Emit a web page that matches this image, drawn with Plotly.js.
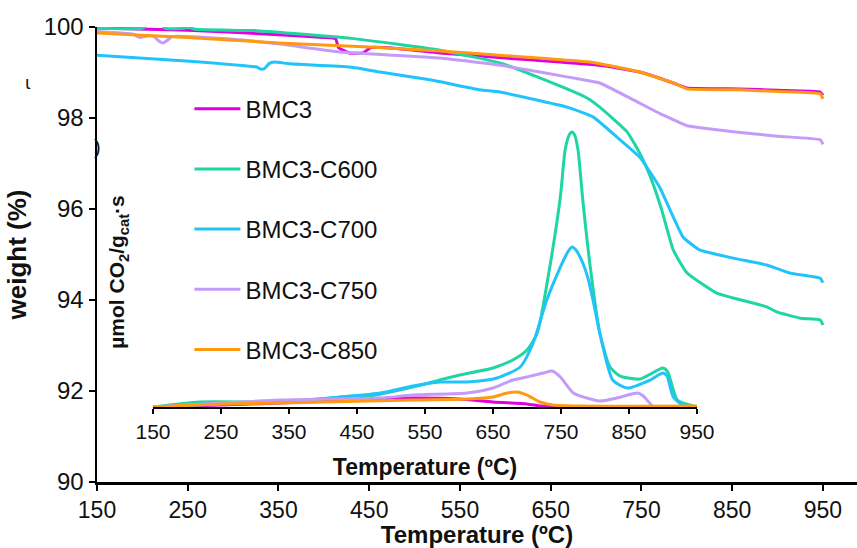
<!DOCTYPE html>
<html>
<head>
<meta charset="utf-8">
<script src="https://cdn.plot.ly/plotly-3.0.1.min.js"></script>
<style>
  html, body { margin: 0; padding: 0; background: #fff; }
  #chart { width: 857px; height: 548px; }
</style>
</head>
<body>
<div id="chart"></div>
<script>
// ---- TGA weight-loss curves (main axes) ----
const seriesNames = ['BMC3', 'BMC3-C600', 'BMC3-C700', 'BMC3-C750', 'BMC3-C850'];
const seriesColors = ['#e000e0', '#1fd6a3', '#21c3fb', '#c49cf8', '#ff9a10'];

const tgaTempBMC3 = [150, 250, 350, 400, 413, 416, 428, 443, 452, 480, 528, 600, 704, 748, 785, 800, 858, 900, 947, 950];
const tgaWtBMC3   = [99.98, 99.93, 99.83, 99.77, 99.74, 99.55, 99.43, 99.43, 99.55, 99.53, 99.43, 99.32, 99.16, 99.01, 98.77, 98.66, 98.64, 98.61, 98.57, 98.5];

const tgaTempC600 = [150, 200, 205, 208, 222, 225, 245, 250, 258, 326, 430, 528, 594, 638, 690, 704, 734, 748, 759, 772, 785, 800, 833, 888, 899, 925, 947, 950];
const tgaWtC600   = [99.97, 99.97, 100.03, 100.03, 100.03, 99.97, 99.97, 100.0, 99.95, 99.92, 99.75, 99.49, 99.21, 98.88, 98.44, 98.24, 97.7, 97.23, 96.75, 96.0, 95.1, 94.6, 94.15, 93.85, 93.74, 93.6, 93.56, 93.45];

const tgaTempC700 = [150, 252, 326, 330, 334, 340, 345, 363, 429, 462, 517, 572, 594, 668, 697, 723, 748, 770, 796, 814, 851, 888, 914, 947, 950];
const tgaWtC700   = [99.38, 99.25, 99.12, 99.08, 99.08, 99.2, 99.23, 99.19, 99.12, 99.01, 98.84, 98.62, 98.57, 98.24, 98.02, 97.58, 97.14, 96.48, 95.38, 95.10, 94.92, 94.77, 94.59, 94.48, 94.38];

const tgaTempC750 = [150, 190, 197, 205, 212, 219, 223, 227, 233, 300, 350, 418, 528, 594, 638, 686, 704, 741, 770, 792, 800, 851, 900, 947, 950];
const tgaWtC750   = [99.9, 99.84, 99.77, 99.8, 99.8, 99.68, 99.65, 99.7, 99.79, 99.73, 99.63, 99.45, 99.32, 99.16, 99.01, 98.84, 98.77, 98.4, 98.1, 97.9, 97.83, 97.7, 97.6, 97.52, 97.42];

const tgaTempC850 = [150, 250, 350, 450, 528, 600, 693, 748, 785, 800, 858, 900, 947, 950];
const tgaWtC850   = [99.87, 99.77, 99.65, 99.56, 99.47, 99.37, 99.23, 99.01, 98.77, 98.64, 98.62, 98.58, 98.53, 98.42];

// ---- CO2 evolution rate (inset axes, µmol CO2/gcat·s) ----
const co2TempBMC3 = [150, 249, 337, 480, 532, 600, 650, 700, 720, 750, 950];
const co2RateBMC3 = [0, 0.02, 0.04, 0.08, 0.09, 0.08, 0.05, 0.03, 0.01, 0, 0];

const co2TempC600 = [150, 219, 337, 410, 450, 459, 532, 572, 601, 650, 679, 700, 715, 731, 749, 756, 762, 766, 770, 775, 782, 793, 807, 822, 837, 866, 900, 907, 921, 944, 950];
const co2RateC600 = [0, 0.05, 0.05, 0.09, 0.11, 0.10, 0.20, 0.27, 0.32, 0.39, 0.47, 0.57, 0.74, 1.3, 2.1, 2.57, 2.72, 2.75, 2.72, 2.57, 2.07, 1.40, 0.74, 0.40, 0.31, 0.28, 0.39, 0.35, 0.07, 0.01, 0];

const co2TempC700 = [150, 249, 337, 484, 532, 572, 612, 656, 690, 709, 729, 749, 760, 766, 772, 782, 790, 797, 807, 826, 847, 881, 900, 906, 915, 929, 950];
const co2RateC700 = [0, 0.03, 0.05, 0.14, 0.21, 0.25, 0.25, 0.29, 0.40, 0.64, 1.07, 1.40, 1.55, 1.60, 1.57, 1.44, 1.28, 1.07, 0.74, 0.27, 0.19, 0.27, 0.34, 0.31, 0.10, 0.02, 0];

const co2TempC750 = [150, 249, 337, 484, 532, 612, 650, 679, 700, 724, 737, 749, 768, 788, 807, 832, 863, 871, 885, 896, 950];
const co2RateC750 = [0, 0.04, 0.07, 0.09, 0.12, 0.14, 0.19, 0.27, 0.30, 0.34, 0.36, 0.30, 0.14, 0.09, 0.06, 0.09, 0.14, 0.11, 0.01, 0, 0];

const co2TempC850 = [150, 249, 337, 532, 612, 650, 671, 685, 700, 719, 738, 778, 950];
const co2RateC850 = [0, 0.03, 0.04, 0.07, 0.08, 0.10, 0.14, 0.15, 0.12, 0.05, 0.02, 0.01, 0.01];

const tempTicks = [150, 250, 350, 450, 550, 650, 750, 850, 950];
const weightTicks = [90, 92, 94, 96, 98, 100];

const FONT = 'Liberation Sans, Arial, sans-serif';
const INK = '#111111';

const tgaX = [tgaTempBMC3, tgaTempC600, tgaTempC700, tgaTempC750, tgaTempC850];
const tgaY = [tgaWtBMC3, tgaWtC600, tgaWtC700, tgaWtC750, tgaWtC850];
const co2X = [co2TempBMC3, co2TempC600, co2TempC700, co2TempC750, co2TempC850];
const co2Y = [co2RateBMC3, co2RateC600, co2RateC700, co2RateC750, co2RateC850];

const traces = [];
seriesNames.forEach((name, i) => {
  traces.push({
    type: 'scatter', mode: 'lines', name: name,
    x: tgaX[i], y: tgaY[i], xaxis: 'x', yaxis: 'y',
    legendgroup: 'g' + i,
    line: { color: seriesColors[i], width: 3, shape: 'spline', smoothing: 0.4 },
    hoverinfo: 'skip'
  });
});
seriesNames.forEach((name, i) => {
  traces.push({
    type: 'scatter', mode: 'lines', name: name,
    x: co2X[i], y: co2Y[i], xaxis: 'x2', yaxis: 'y2',
    legendgroup: 'g' + i, showlegend: false,
    line: { color: seriesColors[i], width: 3, shape: 'spline', smoothing: 0.6 },
    hoverinfo: 'skip'
  });
});

const layout = {
  width: 857, height: 548,
  margin: { l: 97, r: 0, t: 27, b: 66 },
  paper_bgcolor: '#ffffff',
  plot_bgcolor: 'rgba(0,0,0,0)',
  font: { family: FONT, color: INK },
  showlegend: true,
  legend: {
    x: 0.1216, y: 0.869, xanchor: 'left', yanchor: 'top',
    bgcolor: 'rgba(0,0,0,0)',
    font: { family: FONT, size: 24, color: INK },
    traceorder: 'grouped', tracegroupgap: 26,
    itemwidth: 46
  },
  xaxis: {
    domain: [0, 1], range: [150, 987.5],
    tickmode: 'array', tickvals: tempTicks,
    showline: true, linecolor: '#000', linewidth: 2.5,
    ticks: 'outside', ticklen: 6, tickwidth: 2, tickcolor: '#000',
    showgrid: false, zeroline: false,
    tickfont: { family: FONT, size: 23, color: INK },
    title: { text: '<b>Temperature (ºC)</b>', font: { family: FONT, size: 24, color: INK }, standoff: 6 },
    anchor: 'y'
  },
  yaxis: {
    domain: [0, 1], range: [90, 100],
    tickmode: 'array', tickvals: weightTicks,
    showline: true, linecolor: '#000', linewidth: 2.5,
    ticks: 'outside', ticklen: 6, tickwidth: 2, tickcolor: '#000',
    showgrid: false, zeroline: false,
    tickfont: { family: FONT, size: 24, color: INK },
    title: { text: '<b>weight (%)</b>', font: { family: FONT, size: 26, color: INK }, standoff: 10 },
    anchor: 'x'
  },
  xaxis2: {
    domain: [0.0737, 0.7895], range: [150, 950],
    tickmode: 'array', tickvals: tempTicks,
    showline: true, linecolor: '#000', linewidth: 2,
    ticks: 'outside', ticklen: 5, tickwidth: 1.5, tickcolor: '#000',
    showgrid: false, zeroline: false,
    tickfont: { family: FONT, size: 21, color: INK },
    title: { text: '<b>Temperature (ºC)</b>', font: { family: FONT, size: 23, color: INK }, standoff: 17 },
    anchor: 'y2'
  },
  yaxis2: {
    domain: [0.1648, 0.7802], range: [0, 2.8],
    visible: false, anchor: 'x2'
  },
  annotations: [
    {
      xref: 'paper', yref: 'paper', x: 0.0276, y: 0.462,
      text: '<b>µmol CO<sub>2</sub>/g<sub>cat</sub>·s</b>', textangle: -90,
      showarrow: false, font: { family: FONT, size: 21, color: INK },
      xanchor: 'center', yanchor: 'middle'
    },
    {
      xref: 'paper', yref: 'paper', x: 0.0, y: 0.737,
      text: ')', showarrow: false, font: { family: FONT, size: 20, color: INK },
      xanchor: 'center', yanchor: 'middle'
    },
    {
      xref: 'paper', yref: 'paper', x: -0.091, y: 0.877,
      text: 'ι', showarrow: false, font: { family: 'DejaVu Sans, sans-serif', size: 17, color: INK },
      xanchor: 'center', yanchor: 'middle'
    }
  ]
};

Plotly.newPlot('chart', traces, layout, { staticPlot: true, displayModeBar: false });
</script>
</body>
</html>
